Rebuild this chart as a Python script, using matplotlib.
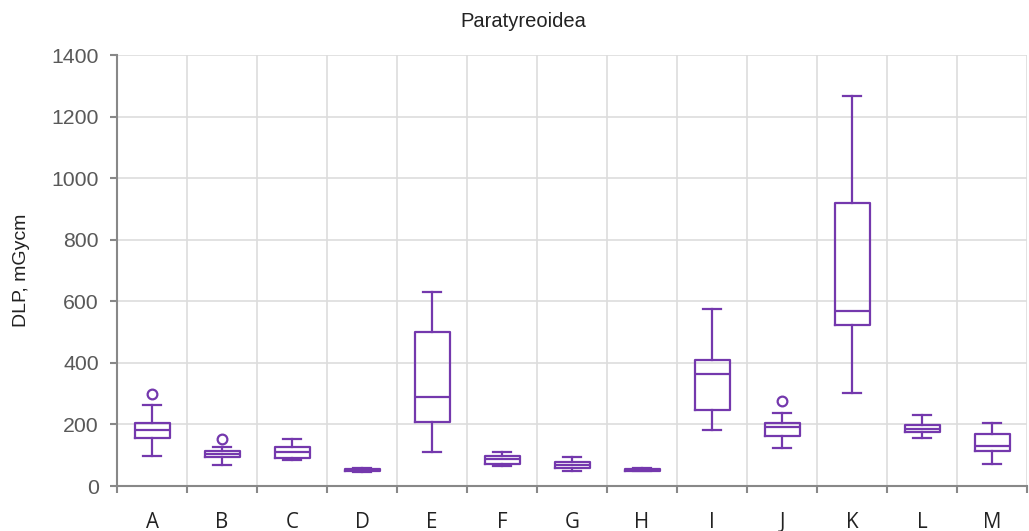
import matplotlib
matplotlib.use("Agg")
import matplotlib.pyplot as plt

plt.rcParams["font.family"] = ["Liberation Sans", "DejaVu Sans"]

categories = ["A", "B", "C", "D", "E", "F", "G", "H", "I", "J", "K", "L", "M"]
whislo = [97, 67, 84, 47, 110, 65, 48, 48, 181, 122, 301, 156, 72]
q1 = [155, 93, 92, 50, 209, 71, 60, 50, 248, 163, 522, 175, 113]
med = [182, 104, 109, 52, 289, 87, 68, 52, 364, 192, 568, 186, 131]
q3 = [206, 115, 127, 55, 501, 97, 77, 55, 409, 206, 920, 197, 168]
whishi = [264, 126, 152, 58, 630, 109, 93, 57, 575, 238, 1268, 230, 204]
fliers = [[298], [153], [], [], [], [], [], [], [], [275], [], [], []]

color = "#7438ad"

stats = []
for i, name in enumerate(categories):
    stats.append({"label": name, "whislo": whislo[i], "q1": q1[i], "med": med[i],
                  "q3": q3[i], "whishi": whishi[i], "fliers": fliers[i]})

fig = plt.figure(figsize=(10.29, 5.31), dpi=100)
ax = fig.add_axes([117 / 1029, 1 - 486 / 531, (1027 - 117) / 1029, (486 - 55) / 531])

# box plots from the summary stats
line = dict(color=color, linewidth=1.6)
ax.bxp(stats, positions=range(1, 14), widths=0.5, showfliers=True,
       boxprops=line, whiskerprops=line, capprops=line, medianprops=line,
       flierprops=dict(marker="o", markerfacecolor="white", markeredgecolor=color,
                       markersize=7, markeredgewidth=1.6))
ax.set_xlim(0.5, 13.5)
ax.set_ylim(0, 1400)
ax.set_yticks(range(0, 1401, 200))
ax.set_xticks(range(1, 14))
ax.set_xticklabels(categories, family=["Open Sans", "DejaVu Sans"])
ax.set_xticks([k + 0.5 for k in range(0, 14)], minor=True)

ax.grid(True, axis="y", color="#dddddd", linewidth=1.2)
ax.grid(True, axis="x", which="minor", color="#dddddd", linewidth=1.2)
ax.grid(False, axis="x", which="major")
ax.set_axisbelow(True)

for s in ["top", "right"]:
    ax.spines[s].set_visible(False)
for s in ["left", "bottom"]:
    ax.spines[s].set_color("#888888")
    ax.spines[s].set_linewidth(1.5)

ax.tick_params(axis="y", colors="#888888", labelcolor="#595959", labelsize=15.3,
               length=5, width=1.5, direction="out", pad=8)
ax.tick_params(axis="x", which="major", length=0, labelsize=14.8, labelcolor="#222222", pad=18.5)
ax.tick_params(axis="x", which="minor", length=5, width=1.5, colors="#888888")

ax.set_ylabel("DLP, mGycm", fontsize=14, color="#222222")
ax.yaxis.set_label_coords(-87 / 910, 0.5)
fig.text(523 / 1029, 1 - 27 / 531, "Paratyreoidea", ha="center", va="baseline",
         fontsize=14.5, color="#222222")

fig.savefig("out.png", dpi=100)
